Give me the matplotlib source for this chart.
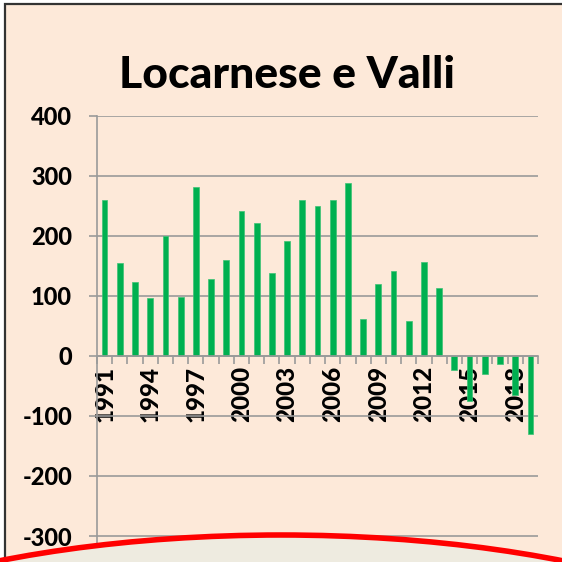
import matplotlib
matplotlib.use("Agg")
import matplotlib.pyplot as plt
from matplotlib.patches import Rectangle, Ellipse
from matplotlib.ticker import FixedLocator, FixedFormatter

title = "Locarnese e Valli"
years = list(range(1991, 2020))
values = [260, 155, 123, 97, 200, 99, 282, 128, 160, 241, 221, 138, 192, 260,
          250, 260, 289, 61, 120, 142, 59, 157, 114, -24, -75, -30, -13, -65, -130]
y_ticks = [-300, -200, -100, 0, 100, 200, 300, 400]
label_years = [1991, 1994, 1997, 2000, 2003, 2006, 2009, 2012, 2015, 2018]

BG = "#fde9d9"
GRID = "#9a9a9a"
GREEN = "#00b050"
FONT = ["Lato", "DejaVu Sans"]

plt.rcParams["font.family"] = FONT
plt.rcParams["font.weight"] = "black"

W = H = 562
fig = plt.figure(figsize=(5.62, 5.62), dpi=100, facecolor="white")

def fx(px):
    return px / W

def fy(py):
    return 1 - py / H

# outer chart border / background
fig.add_artist(Rectangle((fx(5), fy(700)), fx(700), (700 - 4) / H,
                         transform=fig.transFigure, facecolor=BG,
                         edgecolor="#333333", lw=1.6, zorder=-5))

# axes: x from 97 to 538 px, y: 400 at 116 px, -400 at 596 px
ax = fig.add_axes([fx(97), fy(596), fx(538 - 97), (596 - 116) / H])
ax.set_facecolor("none")

x = list(range(len(years)))
ax.bar(x, values, width=0.38, color=GREEN, edgecolor="#3cc275", linewidth=0.5, zorder=2)

ax.set_xlim(-0.5, len(years) - 0.5)
ax.set_ylim(-400, 400)

ax.set_yticks(y_ticks)
ax.set_yticklabels([str(v) for v in y_ticks])
ax.yaxis.grid(True, color=GRID, lw=1.2, zorder=0)
ax.tick_params(axis="y", length=6, width=1.2, color=GRID, pad=12, labelsize=17)

# x axis at zero
ax.spines["bottom"].set_position(("data", 0))
for s in ("top", "right"):
    ax.spines[s].set_visible(False)
ax.spines["left"].set_color(GRID)
ax.spines["left"].set_linewidth(1.2)
ax.spines["bottom"].set_color(GRID)
ax.spines["bottom"].set_linewidth(1.2)
ax.spines["bottom"].set_zorder(3)

label_pos = [years.index(y) for y in label_years]
ax.xaxis.set_major_locator(FixedLocator(label_pos))
ax.xaxis.set_major_formatter(FixedFormatter([str(y) for y in label_years]))
ax.xaxis.set_minor_locator(FixedLocator([i + 0.5 for i in range(-1, len(years))]))
ax.tick_params(axis="x", which="major", length=0, pad=7, labelsize=17.5, labelrotation=90)
ax.tick_params(axis="x", which="minor", length=6, width=1.2, color=GRID)

fig.text(fx(287), fy(88), title, ha="center", va="baseline",
         fontweight="black", fontsize=32)

# red ellipse overlay at the bottom
fig.add_artist(Ellipse((fx(281), fy(535 + 190)), 2 * 560 / W, 2 * 190 / H,
                       transform=fig.transFigure, facecolor="#eeebe0",
                       edgecolor="#ff0000", lw=4, zorder=10))

fig.savefig("out.png", dpi=100, facecolor="white")
